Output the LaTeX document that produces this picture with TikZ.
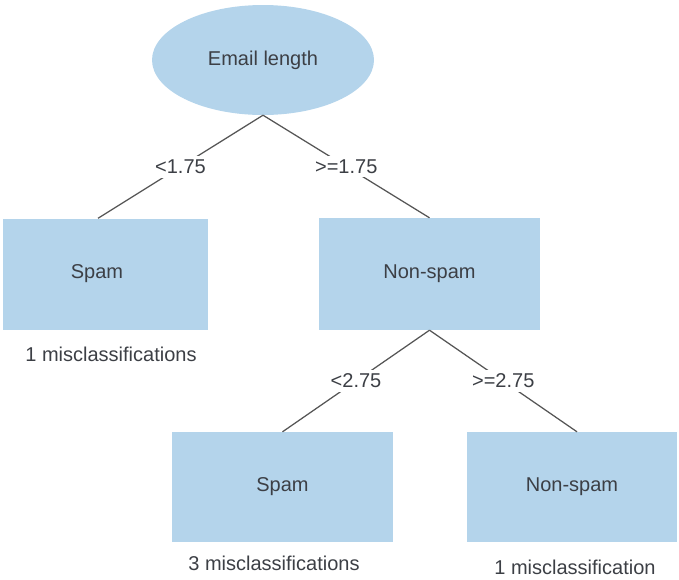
\documentclass[tikz,border=0pt]{standalone}
\usepackage{fontspec}
\setmainfont{Liberation Sans}
\usetikzlibrary{shapes.geometric}
\definecolor{boxblue}{HTML}{B4D4EB}
\definecolor{ink}{HTML}{3C3F45}
\definecolor{edge}{HTML}{555555}
\tikzset{
  leafbox/.style={rectangle, fill=boxblue, inner sep=0pt, font=\fontsize{20}{24}\selectfont, text=ink},
  rootshape/.style={ellipse, fill=boxblue, inner sep=0pt, minimum width=222, minimum height=110, font=\fontsize{20}{24}\selectfont, text=ink},
  branch/.style={draw=edge, line width=1.25pt},
  cond/.style={fill=white, inner sep=4pt, font=\fontsize{20}{24}\selectfont, text=ink},
  note/.style={font=\fontsize{20}{24}\selectfont, text=ink, inner sep=0pt}
}
\begin{document}
\begin{tikzpicture}[x=1pt, y=-1pt]
  \useasboundingbox (0,0) rectangle (679,579);
  % root test
  \node[rootshape] (root) at (263,60) {Email length};
  % first split
  \node[leafbox, minimum width=205, minimum height=111,
        label={[note, xshift=-8.5pt]center:Spam}] (spamA) at (105.5,274) {};
  \node[leafbox, minimum width=221, minimum height=112] (hamA) at (429.5,274) {Non-spam};
  % second split
  \node[leafbox, minimum width=221, minimum height=110] (spamB) at (282.5,487) {Spam};
  \node[leafbox, minimum width=210, minimum height=110] (hamB) at (572,487) {Non-spam};
  % branches with their thresholds
  \draw[branch] (root.south) -- node[cond] (c1) {<1.75} (spamA.north -| 98,0);
  \draw[branch] (root.south) -- node[cond] (c2) {>=1.75} (hamA.north);
  \draw[branch] (hamA.south) -- node[cond] (c3) {<2.75} (spamB.north);
  \draw[branch] (hamA.south) -- node[cond] (c4) {>=2.75} (hamB.north -| 577,0);
  % error counts under the leaves
  \node[note] (errA) at (111,354) {1 misclassifications};
  \node[note] (errB) at (274,563) {3 misclassifications};
  \node[note] (errC) at (575,567) {1 misclassification};
\end{tikzpicture}
\end{document}
